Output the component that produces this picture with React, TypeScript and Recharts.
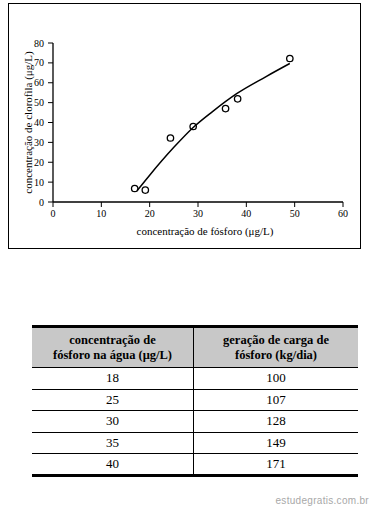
import { ComposedChart, Scatter, Line, XAxis, YAxis, Label } from "recharts";

// measured points: phosphorus (µg/L) vs chlorophyll (µg/L)
const phosphorus = [16.9, 19.1, 24.3, 29.0, 35.7, 38.2, 49.0];
const chlorophyll = [6.8, 6.0, 32.2, 38.0, 47.0, 51.9, 72.2];

// fitted curve
const fitX = [17.4, 20, 25, 29, 33, 38, 44, 49];
const fitY = [5.7, 13.5, 27.5, 37.5, 45.5, 54.5, 63, 69.7];

const xTicks = [0, 10, 20, 30, 40, 50, 60];
const yTicks = [0, 10, 20, 30, 40, 50, 60, 70, 80];

// table below the chart
const tableConc = [18, 25, 30, 35, 40];
const tableLoad = [100, 107, 128, 149, 171];

const serif = "'Liberation Serif', 'Times New Roman', serif";

const scatterData = phosphorus.map((x, i) => ({ x, y: chlorophyll[i] }));
const fitData = fitX.map((x, i) => ({ x, y: fitY[i] }));

const Ring = (props: any) => (
  <circle cx={props.cx} cy={props.cy} r={3.2} fill="none" stroke="#000" strokeWidth={1.3} />
);

const tickStyle = { fill: "#000", fontSize: 10, fontFamily: serif };

const cell: React.CSSProperties = {
  textAlign: "center",
  padding: 0,
  borderBottom: "1px solid #000",
};

const App = () => {
  return (
    <div style={{ position: "absolute", left: 0, top: 0, width: 371, height: 508, background: "#fff", fontFamily: serif }}>
      <div
        style={{
          position: "absolute",
          left: 8,
          top: 3,
          width: 351,
          height: 244,
          border: "1.5px solid #000",
        }}
      />
      <div style={{ position: "absolute", left: 0, top: 0 }}>
        <ComposedChart
          width={371}
          height={260}
          margin={{ top: 43, right: 28, bottom: 22, left: 0 }}
          style={{ fontFamily: serif }}
        >
          <XAxis
            type="number"
            dataKey="x"
            domain={[0, 60]}
            ticks={xTicks}
            interval={0}
            height={36}
            tickSize={5}
            tickMargin={3}
            tick={tickStyle}
            axisLine={{ stroke: "#000", strokeWidth: 1.3 }}
            tickLine={{ stroke: "#000" }}
          >
            <Label
              value="concentração de fósforo (μg/L)"
              position="insideBottom"
              offset={3}
              dx={7}
              style={{ fill: "#000", fontSize: 11, fontFamily: serif }}
            />
          </XAxis>
          <YAxis
            type="number"
            dataKey="y"
            domain={[0, 80]}
            ticks={yTicks}
            interval={0}
            width={53}
            tickSize={5}
            tickMargin={4}
            tick={tickStyle}
            axisLine={{ stroke: "#000", strokeWidth: 1.3 }}
            tickLine={{ stroke: "#000" }}
          >
            <Label
              value="concentração de clorofila (μg/L)"
              angle={-90}
              position="center"
              dx={2}
              style={{ fill: "#000", fontSize: 11, fontFamily: serif, textAnchor: "middle" }}
            />
          </YAxis>
          <Line
            data={fitData}
            dataKey="y"
            type="monotone"
            stroke="#000"
            strokeWidth={1.5}
            dot={false}
            activeDot={false}
            isAnimationActive={false}
          />
          <Scatter data={scatterData} dataKey="y" shape={Ring} isAnimationActive={false} />
        </ComposedChart>
      </div>

      <table
        style={{
          position: "absolute",
          left: 32,
          top: 325,
          width: 326,
          borderCollapse: "collapse",
          borderTop: "3px solid #000",
          borderBottom: "3px solid #000",
          fontFamily: serif,
          fontSize: 13,
          color: "#000",
        }}
      >
        <thead>
          <tr style={{ background: "#c8c8c8", height: 41 }}>
            <th style={{ ...cell, width: 161, borderRight: "1px solid #000", fontSize: 12.5, lineHeight: "15px" }}>
              concentração de
              <br />
              fósforo na água (μg/L)
            </th>
            <th style={{ ...cell, fontSize: 12.5, lineHeight: "15px" }}>
              geração de carga de
              <br />
              fósforo (kg/dia)
            </th>
          </tr>
        </thead>
        <tbody>
          {tableConc.map((c, i) => (
            <tr key={c} style={{ height: 21.6 }}>
              <td style={{ ...cell, borderRight: "1px solid #000" }}>{c}</td>
              <td style={cell}>{tableLoad[i]}</td>
            </tr>
          ))}
        </tbody>
      </table>

      <div
        style={{
          position: "absolute",
          right: 2,
          top: 495,
          fontFamily: "'Liberation Sans', Arial, sans-serif",
          fontSize: 10,
          color: "#a8a8a8",
          letterSpacing: 0.3,
        }}
      >
        estudegratis.com.br
      </div>
    </div>
  );
};

export default App;
